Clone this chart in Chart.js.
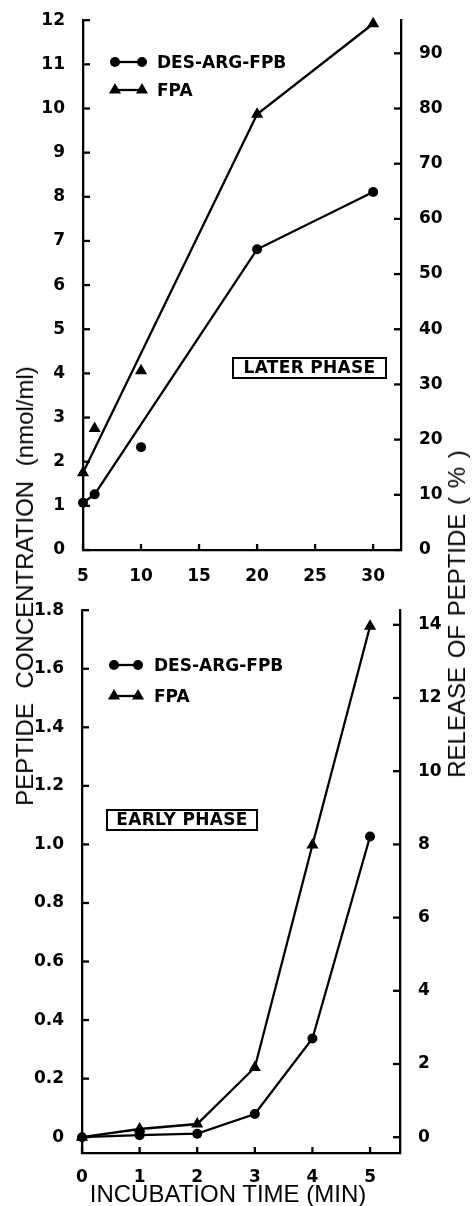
<!DOCTYPE html>
<html>
<head>
<meta charset="utf-8">
<script src="https://cdn.jsdelivr.net/npm/chart.js@4.4.0/dist/chart.umd.min.js"></script>
<style>
html, body { margin: 0; padding: 0; background: #fff; }
#page { position: relative; width: 472px; height: 1206px; overflow: hidden; }
.box { position: absolute; left: 0; width: 472px; }
.txt { position: absolute; color: #000; white-space: nowrap; }
.leg { font: bold 17px "DejaVu Sans"; line-height: 20px; }
.phase { font: bold 17px "DejaVu Sans"; letter-spacing: 0.3px; border: 2.5px solid #000; box-sizing: border-box; text-align: center; line-height: 17px; }
.axt { font: 24px "Liberation Sans"; transform-origin: center; }
</style>
</head>
<body>
<div id="page">
    <div class="box" style="top:0;height:590px"><canvas id="later"></canvas></div>
    <div class="box" style="top:590px;height:616px"><canvas id="early"></canvas></div>

    <div class="txt leg" style="left:157px;top:52px">DES-ARG-FPB</div>
    <div class="txt leg" style="left:157px;top:80px">FPA</div>
    <div class="txt phase" style="left:232px;top:357px;width:155px;height:22px">LATER PHASE</div>

    <div class="txt leg" style="left:154px;top:655px">DES-ARG-FPB</div>
    <div class="txt leg" style="left:154px;top:686px">FPA</div>
    <div class="txt phase" style="left:106px;top:809px;width:152px;height:22px">EARLY PHASE</div>

    <div class="txt axt" style="left:25px;top:586px;transform:translate(-50%,-50%) rotate(-90deg);word-spacing:8px">PEPTIDE CONCENTRATION (nmol/ml)</div>
    <div class="txt axt" style="left:457px;top:614px;transform:translate(-50%,-50%) rotate(-90deg);word-spacing:2px">RELEASE OF PEPTIDE ( % )</div>
    <div class="txt axt" style="left:228px;top:1194px;transform:translate(-50%,-50%)">INCUBATION TIME (MIN)</div>
</div>

<script>
// later phase, 5-30 min
const laterTime = [5, 6, 10, 20, 30];
const laterDesArg = [1.07, 1.26, 2.33, 6.81, 8.11];
const laterFpa = [1.75, 2.75, 4.06, 9.87, 11.92];
// the drawn lines skip some of the points
const laterDesArgLine = [0, 1, 3, 4];
const laterFpaLine = [0, 3, 4];

// early phase, 0-5 min
const earlyTime = [0, 1, 2, 3, 4, 5];
const earlyDesArg = [0, 0.007, 0.012, 0.079, 0.337, 1.027];
const earlyFpa = [0, 0.028, 0.045, 0.238, 0.998, 1.745];

// ticks
const laterTimeTicks = [5, 10, 15, 20, 25, 30];
const laterConcTicks = [0, 1, 2, 3, 4, 5, 6, 7, 8, 9, 10, 11, 12];
const laterReleaseTicks = [0, 10, 20, 30, 40, 50, 60, 70, 80, 90];
const earlyTimeTicks = [0, 1, 2, 3, 4, 5];
const earlyConcTicks = [0, 0.2, 0.4, 0.6, 0.8, 1.0, 1.2, 1.4, 1.6, 1.8];
const earlyReleaseTicks = [0, 2, 4, 6, 8, 10, 12, 14];

// % release per nmol/ml (right axis vs left axis)
const releaseFactor = 8;

const tickFont = { family: 'DejaVu Sans', weight: 'bold', size: 17 };
const ink = 2.3;

function pts(xs, ys, idx) {
    const list = idx || xs.map((v, i) => i);
    return list.map(i => ({ x: xs[i], y: ys[i] }));
}

function marker(ctx, style, x, y) {
    ctx.beginPath();
    if (style == 'circle') {
        ctx.arc(x, y, 5, 0, Math.PI * 2);
    } else {
        const r = 7;
        ctx.moveTo(x, y - r);
        ctx.lineTo(x + r * 0.866, y + r * 0.5);
        ctx.lineTo(x - r * 0.866, y + r * 0.5);
        ctx.closePath();
    }
    ctx.fill();
}

const paperLook = {
    id: 'paperLook',
    afterDraw(chart, args, opts) {
        const ctx = chart.ctx;
        ctx.save();
        ctx.strokeStyle = '#000';
        ctx.fillStyle = '#000';
        ctx.lineWidth = ink;
        // tick marks point into the plot
        (opts.inward || []).forEach(([id, len]) => {
            const s = chart.scales[id];
            s.ticks.forEach(t => {
                const p = s.getPixelForValue(t.value);
                ctx.beginPath();
                if (s.axis == 'x') {
                    ctx.moveTo(p, s.top); ctx.lineTo(p, s.top - len);
                } else if (s.position == 'left') {
                    ctx.moveTo(s.right, p); ctx.lineTo(s.right + len, p);
                } else {
                    ctx.moveTo(s.left, p); ctx.lineTo(s.left - len, p);
                }
                ctx.stroke();
            });
        });
        // legend keys
        (opts.keys || []).forEach(k => {
            ctx.beginPath();
            ctx.moveTo(k.x1, k.y); ctx.lineTo(k.x2, k.y);
            ctx.stroke();
            marker(ctx, k.style, k.x1, k.y);
            marker(ctx, k.style, k.x2, k.y);
        });
        ctx.restore();
    }
};

function axis(pos, min, max, tickList, label, pad, size) {
    return {
        type: 'linear',
        position: pos,
        min: min,
        max: max,
        grid: { display: false },
        border: { display: true, color: '#000', width: ink },
        afterBuildTicks: s => { s.ticks = tickList.map(v => ({ value: v })); },
        afterFit: s => {
            if (pos == 'bottom') s.height = size; else s.width = size;
        },
        ticks: {
            color: '#000',
            font: tickFont,
            padding: pad,
            callback: label
        }
    };
}

function lineSet(data) {
    return { data: data, showLine: true, pointRadius: 0, borderColor: '#000', borderWidth: ink, clip: false, yAxisID: 'y' };
}
function dotSet(data, style) {
    return {
        data: data, showLine: false, pointStyle: style, pointRadius: style == 'circle' ? 5 : 7,
        backgroundColor: '#000', borderColor: '#000', borderWidth: 0, clip: false, yAxisID: 'y'
    };
}

const plain = v => String(v);
const oneDec = v => v == 0 ? '0' : v.toFixed(1);

new Chart(document.getElementById('later'), {
    type: 'scatter',
    data: {
        datasets: [
            lineSet(pts(laterTime, laterDesArg, laterDesArgLine)),
            lineSet(pts(laterTime, laterFpa, laterFpaLine)),
            dotSet(pts(laterTime, laterDesArg), 'circle'),
            dotSet(pts(laterTime, laterFpa), 'triangle')
        ]
    },
    options: {
        responsive: true,
        maintainAspectRatio: false,
        animation: false,
        layout: { padding: { top: 19, left: 0, right: 0, bottom: 0 } },
        scales: {
            x: axis('bottom', 5, 32.4, laterTimeTicks, plain, 8, 40),
            y: axis('left', 0, 12, laterConcTicks, plain, 10, 83),
            y2: axis('right', 0, 12 * releaseFactor, laterReleaseTicks, plain, 10, 71)
        },
        plugins: {
            legend: { display: false },
            tooltip: { enabled: false },
            paperLook: {
                inward: [['x', 6], ['y', 7], ['y2', 7]],
                keys: [
                    { style: 'circle', x1: 115, x2: 142, y: 62 },
                    { style: 'triangle', x1: 115, x2: 142, y: 90 }
                ]
            }
        }
    },
    plugins: [paperLook]
});

new Chart(document.getElementById('early'), {
    type: 'scatter',
    data: {
        datasets: [
            lineSet(pts(earlyTime, earlyDesArg)),
            lineSet(pts(earlyTime, earlyFpa)),
            dotSet(pts(earlyTime, earlyDesArg), 'circle'),
            dotSet(pts(earlyTime, earlyFpa), 'triangle')
        ]
    },
    options: {
        responsive: true,
        maintainAspectRatio: false,
        animation: false,
        layout: { padding: { top: 18, left: 0, right: 0, bottom: 0 } },
        scales: {
            x: axis('bottom', 0, 5.52, earlyTimeTicks, plain, 6, 53),
            y: axis('left', -0.054, 1.8, earlyConcTicks, oneDec, 10, 82),
            y2: axis('right', -0.054 * releaseFactor, 1.8 * releaseFactor, earlyReleaseTicks, plain, 10, 72)
        },
        plugins: {
            legend: { display: false },
            tooltip: { enabled: false },
            paperLook: {
                inward: [['x', 6], ['y', 7], ['y2', 7]],
                keys: [
                    { style: 'circle', x1: 114, x2: 138, y: 75 },
                    { style: 'triangle', x1: 114, x2: 138, y: 106 }
                ]
            }
        }
    },
    plugins: [paperLook]
});
</script>
</body>
</html>
